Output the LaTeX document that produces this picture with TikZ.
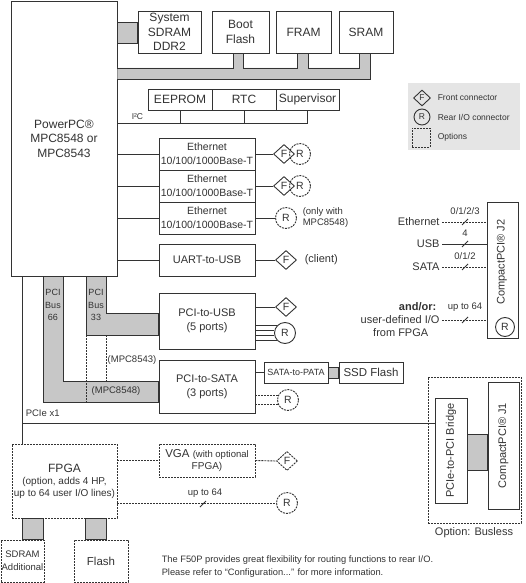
\documentclass[tikz,border=0pt]{standalone}
\usepackage{fontspec}
\setmainfont{Liberation Sans}
\usetikzlibrary{shapes.geometric}

\tikzset{
  box/.style={rectangle, draw, fill=white, inner sep=0pt, align=center},
  optbox/.style={box, dash pattern=on 2pt off 1pt},
  opt/.style={dash pattern=on 2pt off 1pt},
  bus/.style={draw, fill=black!22},
  fconn/.style={diamond, draw, minimum width=21pt, minimum height=19pt, inner sep=0pt, font=\fontsize{10.5}{12}\selectfont},
  rconn/.style={circle, draw, minimum size=21pt, inner sep=0pt, font=\fontsize{10.5}{12}\selectfont},
  tbig/.style={font=\fontsize{12}{14.5}\selectfont},
  tmid/.style={font=\fontsize{11}{14}\selectfont},
  tsmall/.style={font=\fontsize{9.5}{11}\selectfont},
  ttiny/.style={font=\fontsize{8.5}{10}\selectfont},
}

\begin{document}
\begin{tikzpicture}[x=1pt, y=-1pt, line width=0.9pt, color=black!80]
  \useasboundingbox (0,0) rectangle (525,583);

  % processor and memories
  \node[box, tbig, minimum width=106, minimum height=275] (cpu) at (64,138.5) {PowerPC®\\MPC8548 or\\MPC8543};
  \node[box, tbig, minimum width=63, minimum height=42] (sdram) at (169.5,32) {System\\SDRAM\\DDR2};
  \node[box, tbig, minimum width=57, minimum height=42] (bootflash) at (240.5,32) {Boot\\Flash};
  \node[box, tbig, minimum width=55, minimum height=42] (fram) at (303.5,32) {FRAM};
  \node[box, tbig, minimum width=54, minimum height=42] (sram) at (366,32) {SRAM};
  \draw[bus] (cpu.east |- 0,22) rectangle (sdram.west |- 0,43);
  \draw[bus] (cpu.east |- 0,68) -- (233,68) -- (bootflash.south -| 233,0) -- (bootflash.south -| 243,0) -- (243,68)
    -- (297,68) -- (fram.south -| 297,0) -- (fram.south -| 308,0) -- (308,68)
    -- (359,68) -- (sram.south -| 359,0) -- (sram.south -| 370,0) -- (370,79) -- (cpu.east |- 0,79);

  % I2C devices
  \node[box, tbig, minimum width=64, minimum height=21] (eeprom) at (180,99.5) {EEPROM};
  \node[box, tbig, minimum width=64, minimum height=21] (rtc) at (244,99.5) {RTC};
  \node[box, tbig, minimum width=63, minimum height=21] (superv) at (307.5,99.5) {Supervisor};
  \coordinate (i2c) at (117,123);
  \draw (cpu.east |- i2c) -- (superv.south |- i2c) -- (superv.south);
  \foreach \n in {eeprom, rtc} \draw (\n.south) -- (\n.south |- i2c);
  \node[ttiny, anchor=south west] at (128,123) {I²C};

  % Ethernet and UART
  \foreach \i/\y in {1/154, 2/186, 3/218} {
    \node[box, font=\fontsize{10.5}{14}\selectfont, minimum width=96, minimum height=32] (eth\i) at (207,\y) {Ethernet\\10/100/1000Base-T};
    \draw (cpu.east |- eth\i) -- (eth\i.west);
  }
  \foreach \i/\y in {1/154, 2/186} {
    \node[rconn, opt] (reth\i) at (300,\y) {R};
    \node[fconn] (feth\i) at (284,\y) {F};
    \draw (eth\i.east) -- (feth\i.west);
  }
  \node[rconn, opt] (reth3) at (286,218) {R};
  \draw (eth3.east) -- (reth3.west);
  \node[tsmall, anchor=west, align=left] at (299,218) {(only with\\MPC8548)};

  \node[box, tmid, minimum width=96, minimum height=32] (uart) at (207,260) {UART-to-USB};
  \draw (cpu.east |- uart) -- (uart.west);
  \node[fconn] (fuart) at (286,260) {F};
  \draw (uart.east) -- (fuart.west);
  \node[tmid, anchor=west] at (301,260) {(client)};

  % PCI buses
  \node[box, tmid, minimum width=96, minimum height=56] (pciusb) at (207,321) {PCI-to-USB\\(5 ports)};
  \node[box, tmid, minimum width=96, minimum height=53] (pcisata) at (207,386.5) {PCI-to-SATA\\(3 ports)};
  \draw[bus] (cpu.south -| 86,0) -- (86,335) -- (pciusb.west |- 0,335) -- (pciusb.west |- 0,313) -- (106,313) -- (cpu.south -| 106,0) -- cycle;
  \draw[bus] (cpu.south -| 43,0) -- (43,402) -- (pcisata.west |- 0,402) -- (pcisata.west |- 0,381) -- (63,381) -- (cpu.south -| 63,0) -- cycle;
  \draw[opt] (86,335) -- (86,402);
  \draw[opt] (106,335) -- (106,381);
  \node[font=\fontsize{9}{12.5}\selectfont, align=center] at (53,305) {PCI\\Bus\\66};
  \node[font=\fontsize{9}{12.5}\selectfont, align=center] at (96,305) {PCI\\Bus\\33};
  \node[tsmall] at (132,360) {(MPC8543)};
  \node[tsmall] at (116,391) {(MPC8548)};

  \node[fconn] (fusb) at (286,307) {F};
  \draw (pciusb.east |- fusb) -- (fusb.west);
  \node[rconn] (rusb) at (285,333) {R};
  \foreach \a in {134,166,194,226} \draw (pciusb.east |- rusb.\a) -- (rusb.\a);

  \node[box, font=\fontsize{9}{10}\selectfont, minimum width=64, minimum height=21] (s2p) at (296,372.5) {SATA-to-PATA};
  \node[box, font=\fontsize{11.5}{13}\selectfont, minimum width=64, minimum height=21] (ssd) at (371,372.5) {SSD Flash};
  \draw (pcisata.east |- s2p) -- (s2p.west);
  \draw[bus] (s2p.east |- 0,367) rectangle (ssd.west |- 0,378);
  \node[rconn, opt] (rsata) at (288,400) {R};
  \foreach \a in {157,203} \draw[opt] (pcisata.east |- rsata.\a) -- (rsata.\a);

  % PCIe and busless option
  \node[optbox, minimum width=93, minimum height=146] (busless) at (474.5,450) {};
  \node[box, minimum width=32, minimum height=105] (bridge) at (451,450.5) {};
  \node[tmid, rotate=90] at (bridge) {PCIe-to-PCI Bridge};
  \node[box, minimum width=31, minimum height=127] (jone) at (503.5,445.5) {};
  \node[tmid, rotate=90] at (jone) {CompactPCI® J1};
  \draw[bus] (bridge.east |- 0,434) rectangle (jone.west |- 0,470);
  \node[tmid] at (474,533) {Option: Busless};

  \node[optbox, minimum width=105, minimum height=74] (fpga) at (64.5,481) {\fontsize{12}{13}\selectfont FPGA\\\fontsize{10}{12.5}\selectfont (option, adds 4 HP,\\up to 64 user I/O lines)};
  \coordinate (pcie) at (22,423);
  \draw (cpu.south -| pcie) -- (fpga.north -| pcie);
  \draw (pcie) -- (bridge.west |- pcie);
  \node[tsmall, anchor=south west] at (22,420) {PCIe x1};

  % FPGA options
  \node[optbox, minimum width=96, minimum height=33] (vga) at (207,460.5) {\fontsize{11.5}{14}\selectfont VGA {\fontsize{9.5}{14}\selectfont(with optional}\\\fontsize{10}{14}\selectfont FPGA)};
  \draw[opt] (fpga.east |- vga) -- (vga.west);
  \node[fconn, opt] (fvga) at (287,461) {F};
  \draw[opt] (vga.east) -- (fvga.west);
  \node[rconn, opt] (rfpga) at (287,503) {R};
  \draw[opt] (fpga.east |- rfpga) -- (rfpga.west);
  \node[tsmall] at (205,493) {up to 64};
  \draw (203,504) +(-3,3) -- +(3,-3);

  \node[optbox, font=\fontsize{9.5}{13}\selectfont, minimum width=43, minimum height=42] (sdramadd) at (22.5,561) {SDRAM\\Additional};
  \node[optbox, font=\fontsize{11.5}{13}\selectfont, minimum width=54, minimum height=42] (fflash) at (101,561) {Flash};
  \draw[bus] (fpga.south -| 22,0) rectangle (sdramadd.north -| 43,0);
  \draw[bus] (fpga.south -| 85,0) rectangle (fflash.north -| 106,0);

  \node[font=\fontsize{9.3}{13}\selectfont, anchor=west, align=left] at (158,566.5) {The F50P provides great flexibility for routing functions to rear I/O.\\Please refer to “Configuration...” for more information.};

  % rear I/O on J2
  \node[box, minimum width=31, minimum height=136] (jtwo) at (502.5,270) {};
  \node[tmid, rotate=90] at (502,262) {CompactPCI® J2};
  \node[rconn, minimum size=19pt] (rj2) at (505,327) {R};
  \node[tmid, anchor=east, inner sep=2pt] (seth) at (442,222) {Ethernet};
  \node[tmid, anchor=east, inner sep=2pt] (susb) at (442,244) {USB};
  \node[tmid, anchor=east, inner sep=2pt] (ssata) at (442,267) {SATA};
  \node[tmid, anchor=east, inner sep=2pt] (suser) at (442,320) {user-defined I/O};
  \node[tmid, anchor=east] at (440,307) {\textbf{and/or:}};
  \node[tmid, anchor=east] at (432,333) {from FPGA};
  \draw[opt] (seth.east) -- (jtwo.west |- seth);
  \draw (susb.east) -- (jtwo.west |- susb);
  \draw[opt] (ssata.east) -- (jtwo.west |- ssata);
  \draw[opt] (suser.east) -- (jtwo.west |- suser);
  \foreach \y in {222,244,267,320} \draw (465,\y) +(-3,3) -- +(3,-3);
  \node[tsmall] at (465,211) {0/1/2/3};
  \node[tsmall] at (465,233) {4};
  \node[tsmall] at (465,256) {0/1/2};
  \node[tsmall] at (465,307) {up to 64};

  % legend
  \node[fill=black!10, minimum width=112, minimum height=67] (legend) at (464,116.5) {};
  \node[fconn, minimum width=17pt, minimum height=16pt, font=\fontsize{8.5}{10}\selectfont] (legf) at (422,98) {F};
  \node[ttiny, anchor=west] at (434,98) {Front connector};
  \node[rconn, minimum size=16pt, font=\fontsize{8.5}{10}\selectfont] (legr) at (422,117) {R};
  \node[ttiny, anchor=west] at (434,117) {Rear I/O connector};
  \node[draw, opt, minimum width=18, minimum height=19] (lego) at (421,137.5) {};
  \node[ttiny, anchor=west] at (434,137.5) {Options};
\end{tikzpicture}
\end{document}
